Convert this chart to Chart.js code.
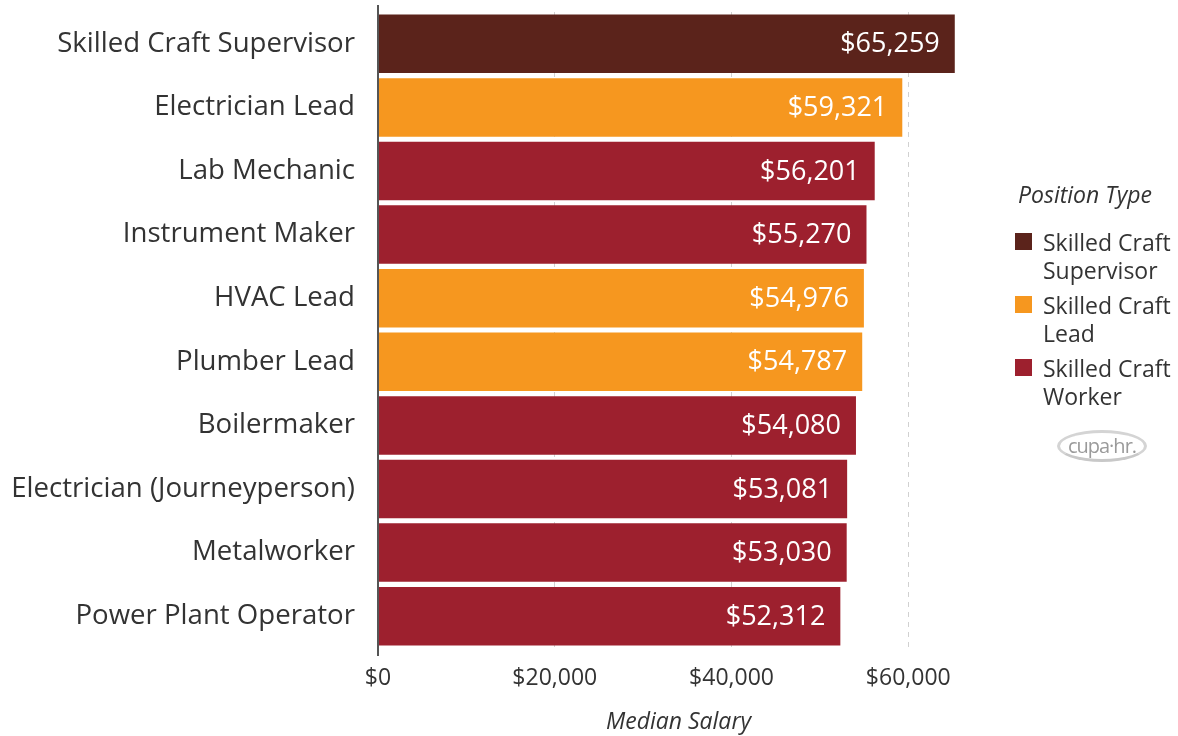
<!DOCTYPE html>
<html>
<head>
<meta charset="utf-8">
<script src="https://cdn.jsdelivr.net/npm/chart.js@4/dist/chart.umd.min.js"></script>
<style>
  html, body { margin: 0; padding: 0; background: #fff; }
  #wrap { position: relative; width: 1178px; height: 736px; font-family: "Open Sans", sans-serif; }
  #legend { position: absolute; left: 1015px; top: 179px; width: 163px; color: #333; }
  #legend .title { font-style: italic; font-size: 23px; margin-left: 3px; margin-bottom: 19px; line-height: 30px; }
  #legend .item { display: flex; align-items: flex-start; font-size: 23px; line-height: 28px; margin-bottom: 7px; }
  #legend .sw { width: 17px; height: 17px; margin-top: 5px; margin-right: 11px; flex: none; }
  #logo { position: absolute; left: 1057px; top: 430px; width: 90px; height: 32px; border-radius: 50%;
          border: 3px solid #d4d4d4; border-bottom-color: #c8c8c8; color: #9a9a9a; font-size: 20px; text-align: center;
          line-height: 25px; font-family: "Open Sans", sans-serif; letter-spacing: -1px; box-sizing: border-box; }
</style>
</head>
<body>
<div id="wrap">
  <canvas id="c" width="1178" height="736"></canvas>
  <div id="legend"></div>
  <div id="logo">cupa·hr.</div>
</div>
<script>
const categories = ["Skilled Craft Supervisor", "Electrician Lead", "Lab Mechanic", "Instrument Maker",
  "HVAC Lead", "Plumber Lead", "Boilermaker", "Electrician (Journeyperson)", "Metalworker", "Power Plant Operator"];
const salaries = [65259, 59321, 56201, 55270, 54976, 54787, 54080, 53081, 53030, 52312];
const positionTypes = ["Supervisor", "Lead", "Worker", "Worker", "Lead", "Lead", "Worker", "Worker", "Worker", "Worker"];
const legendTypes = ["Supervisor", "Lead", "Worker"];
const legendLabels = ["Skilled Craft Supervisor", "Skilled Craft Lead", "Skilled Craft Worker"];
const tickValues = [0, 20000, 40000, 60000];

const typeColors = { Supervisor: "#5b231b", Lead: "#f6971f", Worker: "#9d202e" };

// legend (HTML)
const lg = document.getElementById("legend");
lg.innerHTML = '<div class="title">Position Type</div>' + legendTypes.map((t, i) =>
  '<div class="item"><span class="sw" style="background:' + typeColors[t] + '"></span><span>' +
  legendLabels[i].replace("Craft ", "Craft<br>") + '</span></div>').join("");

const fmt = v => "$" + v.toLocaleString("en-US");

const valueLabels = {
  id: "valueLabels",
  afterDatasetsDraw(chart) {
    const ctx = chart.ctx;
    const meta = chart.getDatasetMeta(0);
    ctx.save();
    ctx.font = '27px "Open Sans", sans-serif';
    ctx.fillStyle = "#ffffff";
    ctx.textAlign = "right";
    ctx.textBaseline = "middle";
    meta.data.forEach((bar, i) => {
      ctx.fillText(fmt(salaries[i]), bar.x - 15, bar.y + 1);
    });
    ctx.restore();
  }
};

const zeroLine = {
  id: "zeroLine",
  afterDraw(chart) {
    const ctx = chart.ctx;
    const x = chart.scales.x.getPixelForValue(0);
    ctx.save();
    ctx.strokeStyle = "#555";
    ctx.lineWidth = 2;
    ctx.beginPath();
    ctx.moveTo(x, chart.chartArea.top - 7);
    ctx.lineTo(x, chart.chartArea.bottom + 8);
    ctx.stroke();
    ctx.restore();
  }
};

new Chart(document.getElementById("c"), {
  type: "bar",
  data: {
    labels: categories,
    datasets: [{
      data: salaries,
      backgroundColor: positionTypes.map(t => typeColors[t]),
      barPercentage: 0.92,
      categoryPercentage: 1.0
    }]
  },
  options: {
    indexAxis: "y",
    responsive: false,
    animation: false,
    layout: { padding: { left: 0, right: 199, top: 12, bottom: 0 } },
    plugins: { legend: { display: false }, tooltip: { enabled: false } },
    scales: {
      x: {
        min: 0, max: 68000,
        z: 1,
        afterBuildTicks: s => { s.ticks = tickValues.map(v => ({ value: v })); },
        afterFit: s => { s.height = 88; },
        border: { display: false, dash: [5, 5] },
        grid: {
          drawTicks: false,
          color: ctx => ctx.tick && ctx.tick.value === 0 ? "rgba(0,0,0,0)" : "rgba(0,0,0,0.18)",
          lineWidth: 1
        },
        ticks: {
          padding: 17,
          color: "#333",
          font: { family: "Open Sans", size: 23 },
          callback: v => fmt(v)
        },
        title: {
          display: true,
          text: "Median Salary",
          color: "#333",
          font: { family: "Open Sans", size: 23, style: "italic" },
          padding: { top: 8, bottom: 0 }
        }
      },
      y: {
        afterFit: s => { s.width = 378; s.paddingTop = 0; s.paddingBottom = 0; },
        border: { display: false },
        grid: { display: false, drawTicks: false },
        ticks: {
          padding: 23,
          color: "#333",
          font: { family: "Open Sans", size: 27.6 }
        }
      }
    }
  },
  plugins: [valueLabels, zeroLine]
});
</script>
</body>
</html>
